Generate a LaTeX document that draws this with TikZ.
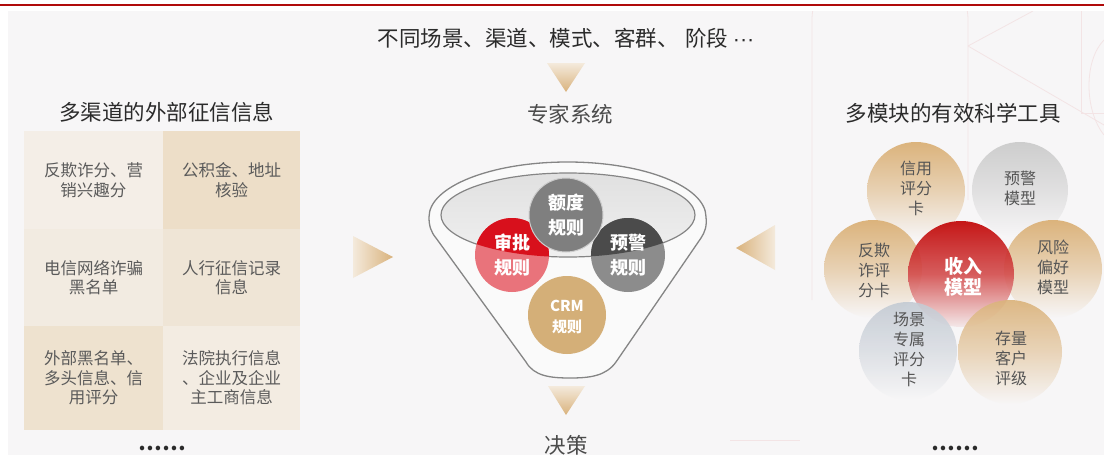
\documentclass[tikz,border=0pt]{standalone}
\usepackage{fontspec}
\setmainfont{Noto Sans CJK SC}
\newfontfamily\latinf{Liberation Sans}
\usetikzlibrary{shapes.geometric}
\definecolor{bg}{HTML}{F7F6F7}
\definecolor{topred}{HTML}{B00A0A}
\definecolor{deco}{HTML}{F3E4E5}
\definecolor{titlec}{HTML}{2B2B2B}
\definecolor{cellt}{HTML}{5A5A5A}
\definecolor{cA}{HTML}{F4EEE7}
\definecolor{cB}{HTML}{EDDEC8}
\definecolor{cC}{HTML}{F2EBE1}
\definecolor{cD}{HTML}{EFE5D6}
\definecolor{cE}{HTML}{EEE2CF}
\definecolor{cF}{HTML}{F3ECE2}
\definecolor{tan}{HTML}{D9B27C}
\definecolor{tanlt}{HTML}{F4EADC}
\definecolor{funl}{HTML}{858585}
\definecolor{spd}{HTML}{D8101C}
\definecolor{spl}{HTML}{E9737B}
\definecolor{yjd}{HTML}{4B4B4B}
\definecolor{yjl}{HTML}{8C8C8C}
\definecolor{edu}{HTML}{7F7F7F}
\definecolor{crm}{HTML}{D4AF78}
\definecolor{ctan}{HTML}{DBB37C}
\definecolor{cgray}{HTML}{CDCDCD}
\definecolor{cblue}{HTML}{C3CAD3}
\definecolor{cred}{HTML}{C00000}
\definecolor{circt}{HTML}{555555}
\tikzset{
  title/.style={text=titlec, font=\fontsize{21.5}{24}\selectfont, inner sep=0pt},
  cell/.style={minimum width=#1, inner sep=0pt, text=cellt, align=center,
    font=\fontsize{16.5}{19.5}\selectfont},
  ftext/.style={text=white, align=center, inner sep=0pt,
    font=\bfseries\fontsize{18}{25}\selectfont},
  ctext/.style={text=circt, align=center, inner sep=0pt,
    font=\fontsize{16}{20}\selectfont},
  fcirc/.style={circle, minimum size=#1, inner sep=0pt, draw=none},
  rcirc/.style={circle, minimum size=#1, inner sep=0pt, draw=none},
  dots/.style={text=titlec, inner sep=0pt, font=\bfseries\fontsize{21}{22}\selectfont},
  decoline/.style={draw=deco, line width=0.8pt}
}
\begin{document}
\begin{tikzpicture}[x=1pt,y=-1pt]
\useasboundingbox (0,0) rectangle (1104,455);
\fill[white] (0,0) rectangle (1104,455);
\fill[bg] (8,11) rectangle (1104,455);
\draw[topred, line width=1.5pt] (0,5) -- (1104,5);

% faint decorations
\begin{scope}
\clip (8,11) rectangle (1104,455);
\draw[decoline, rounded corners=60pt] (812,300) -- (812,-40) -- (968,-40) -- (968,200);
\draw[decoline] (968,46) -- (1033,11);
\draw[decoline] (968,46) -- (1104,125);
\draw[decoline] (1081,11) -- (1081,113) -- (1104,113);
\draw[decoline] (1104,40) .. controls (1084,60) and (1084,110) .. (1104,135);
\draw[decoline] (730,440) -- (800,440);
\end{scope}

% ---------- left block ----------
\node[title] (ltitle) at (167,112) {多渠道的外部征信信息};
\node[cell=139pt, minimum height=98pt, fill=cA] (g11) at (93.5,180) {反欺诈分、营\\销兴趣分};
\node[cell=137pt, minimum height=98pt, fill=cB] (g12) at (231.5,180) {公积金、地址\\核验};
\node[cell=139pt, minimum height=97pt, fill=cC] (g21) at (93.5,277.5) {电信网络诈骗\\黑名单};
\node[cell=137pt, minimum height=97pt, fill=cD] (g22) at (231.5,277.5) {人行征信记录\\信息};
\node[cell=139pt, minimum height=104pt, fill=cE] (g31) at (93.5,378) {外部黑名单、\\多头信息、信\\用评分};
\node[cell=137pt, minimum height=104pt, fill=cF] (g32) at (231.5,378) {法院执行信息\\、企业及企业\\主工商信息};
\node[dots] (ldots) at (162,448) {……};

% arrows
\shade[left color=tanlt, right color=tan] (353,236) -- (393,257) -- (353,278) -- cycle;
\shade[left color=tan, right color=tanlt] (736,248) -- (775,225) -- (775,270) -- cycle;
\shade[top color=tanlt, bottom color=tan] (547,63) -- (585,63) -- (566,92) -- cycle;
\shade[top color=tanlt, bottom color=tan] (548,386) -- (585,386) -- (566,415) -- cycle;

% ---------- centre ----------
\node[title] (ctop) at (566,38) {不同场景、渠道、模式、客群、\hspace{0.3em}阶段 {\latinf ···}};
\node[title, text=titlec!85] (expert) at (570,114) {专家系统};
\node[title, text=titlec!85] (decide) at (566,445) {决策};

% funnel
\filldraw[fill=bg!60!white, draw=funl, line width=1.3pt]
  (429,217) arc[start angle=180, end angle=0, x radius=138.5pt, y radius=55pt]
  .. controls (707,226) and (705,232) .. (701,238) -- (616,362)
  .. controls (606,376) and (590,378) .. (570,378)
  .. controls (550,378) and (534,376) .. (526,362) -- (436,238)
  .. controls (431,232) and (429,226) .. cycle;
\shade[top color=black!12, bottom color=black!6] (568,215) ellipse[x radius=127pt, y radius=42pt];
\draw[funl, line width=1.2pt] (568,215) ellipse[x radius=127pt, y radius=42pt];

\node[fcirc=74pt, fill=spl] (shenpi) at (512,255) {};
\node[fcirc=74pt, fill=yjl] (yujing) at (628,255) {};
\begin{scope}
\clip (568,215) ellipse[x radius=127pt, y radius=42pt];
\fill[spd] (shenpi.center) circle[radius=37pt];
\fill[yjd] (yujing.center) circle[radius=37pt];
\end{scope}
\node[fcirc=78pt, fill=crm] (crm) at (567,315) {};
\node[fcirc=74pt, fill=edu, draw=white!60!edu, line width=1pt] (edu) at (566,215) {};
\node[ftext] (tshenpi) at (shenpi) {审批\\规则};
\node[ftext] (tyujing) at (yujing) {预警\\规则};
\node[ftext] (tedu) at (edu) {额度\\规则};
\node[ftext, font=\bfseries\fontsize{15}{21}\selectfont] (tcrm) at (567,317.5) {CRM\\规则};

% ---------- right block ----------
\node[title] (rtitle) at (953,113) {多模块的有效科学工具};
\node[rcirc=98pt, top color=ctan, bottom color=bg, middle color=ctan!55!bg] (xinyong) at (916,191) {};
\node[rcirc=96pt, top color=cgray, bottom color=bg, middle color=cgray!55!bg] (yjmx) at (1020,190) {};
\node[rcirc=98pt, top color=ctan, bottom color=bg, middle color=ctan!55!bg] (fanqi) at (873,269) {};
\node[rcirc=98pt, top color=ctan, bottom color=bg, middle color=ctan!55!bg] (fengxian) at (1053,269) {};
\node[rcirc=106pt, top color=cred, bottom color=cred!6!bg, middle color=cred!70!white, fill opacity=0.9] (shouru) at (961,274) {};
\node[rcirc=98pt, top color=cblue, bottom color=bg, middle color=cblue!55!bg, fill opacity=0.9] (changjing) at (908,351) {};
\node[rcirc=104pt, top color=ctan, bottom color=bg, middle color=ctan!55!bg, fill opacity=0.92] (cunliang) at (1010,352) {};

\node[ctext] (txinyong) at (916,188) {信用\\评分\\卡};
\node[ctext] (tyjmx) at (1020,188) {预警\\模型};
\node[ctext] (tfanqi) at (874,270) {反欺\\诈评\\分卡};
\node[ctext] (tfengxian) at (1053,267) {风险\\偏好\\模型};
\node[ctext, text=white, font=\bfseries\fontsize{19}{21}\selectfont] (tshouru) at (963,276.5) {收入\\模型};
\node[ctext] (tchangjing) at (909,349.5) {场景\\专属\\评分\\卡};
\node[ctext] (tcunliang) at (1011,358.5) {存量\\客户\\评级};
\node[dots] (rdots) at (955,448) {……};
\end{tikzpicture}
\end{document}
